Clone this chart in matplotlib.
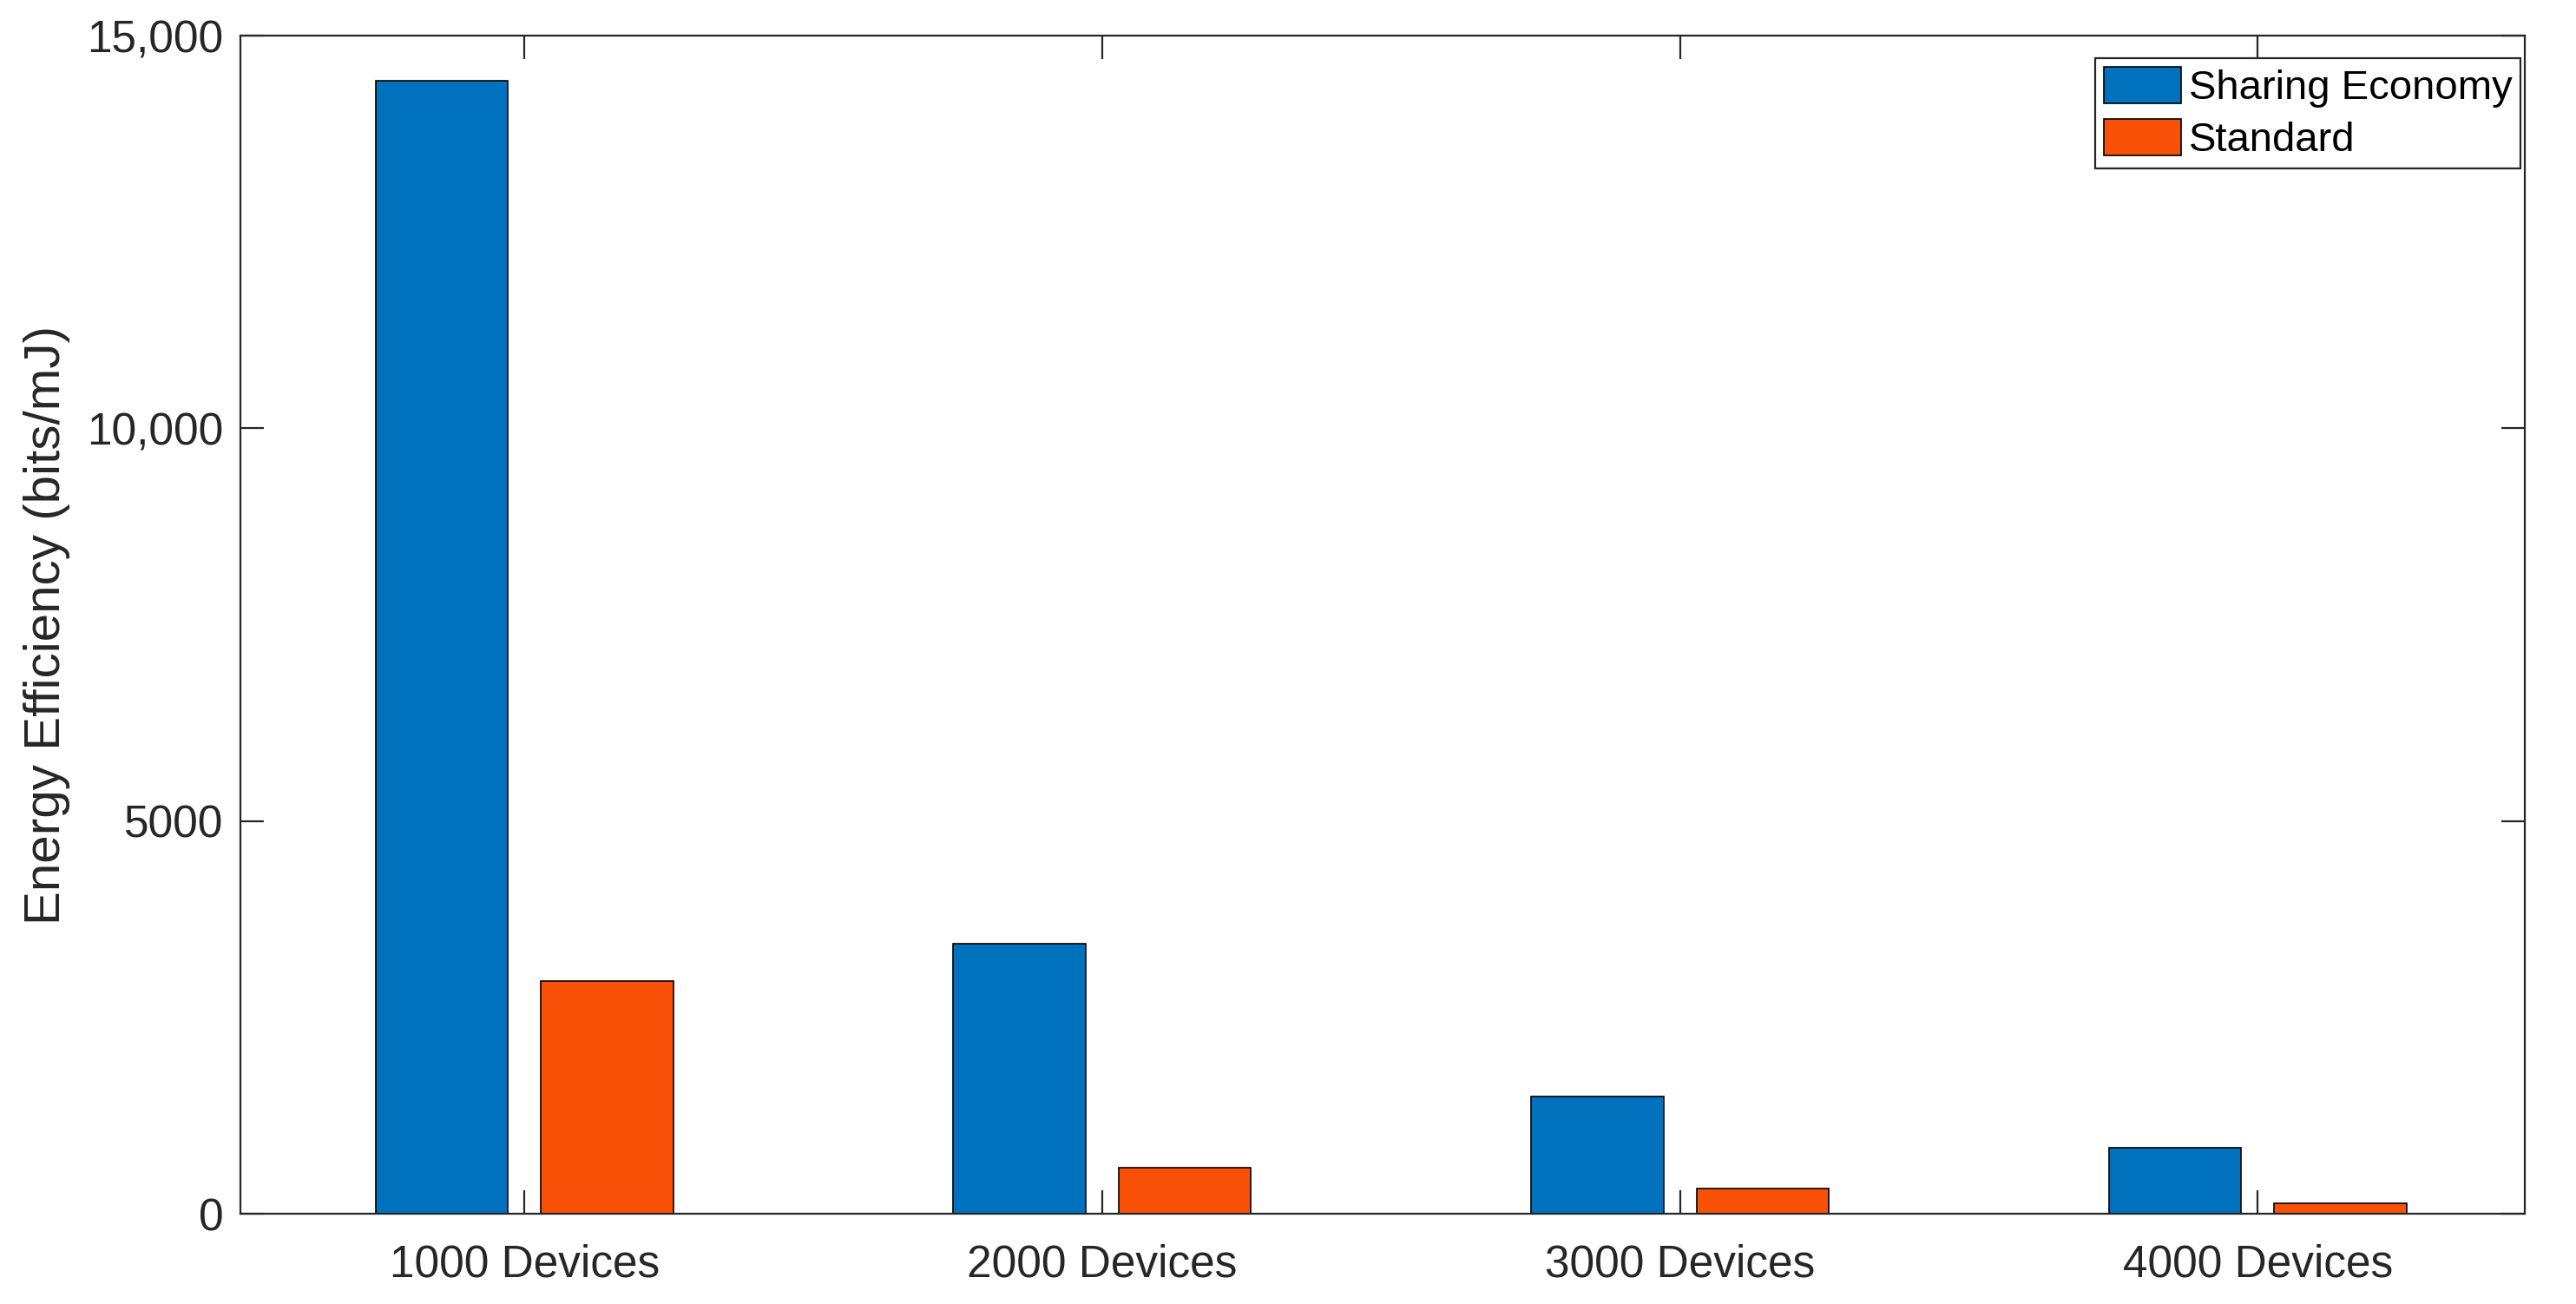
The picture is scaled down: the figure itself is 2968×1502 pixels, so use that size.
import matplotlib
matplotlib.use("Agg")
import matplotlib.pyplot as plt
import numpy as np

categories = ["1000 Devices", "2000 Devices", "3000 Devices", "4000 Devices"]
sharing_economy = [14430, 3436, 1494, 839]
standard = [2958, 585, 320, 136]
series_names = ["Sharing Economy", "Standard"]
y_ticks = [0, 5000, 10000, 15000]
y_tick_labels = ["0", "5000", "10,000", "15,000"]
y_label = "Energy Efficiency (bits/mJ)"

plt.rcParams['font.family'] = ['Liberation Sans', 'DejaVu Sans']

DPI = 200
fig = plt.figure(figsize=(2968 / DPI, 1502 / DPI), dpi=DPI)
ax = fig.add_axes([0.0933, 0.0692, 0.9801 - 0.0933, 0.9727 - 0.0692])

x = np.arange(1, len(categories) + 1)
w = 0.229
off = 0.143
ax.bar(x - off, sharing_economy, w, color="#0072BD", edgecolor="black",
       linewidth=0.6, label=series_names[0], zorder=2)
ax.bar(x + off, standard, w, color="#F95208", edgecolor="black",
       linewidth=0.6, label=series_names[1], zorder=2)

ax.set_xlim(1 - 0.4915, 4 + 0.462)
ax.set_ylim(0, 15000)
ax.set_xticks(x)
ax.set_xticklabels(categories)
ax.set_yticks(y_ticks)
ax.set_yticklabels(y_tick_labels)

tc = "#262626"
for s in ax.spines.values():
    s.set_color(tc)
    s.set_linewidth(0.8)
ax.tick_params(axis='both', direction='in', length=9.7, width=0.8, color=tc,
               labelcolor=tc, labelsize=18.5, top=True, right=True)
ax.tick_params(axis='x', pad=12.5)
ax.tick_params(axis='y', pad=7)
ax.set_ylabel(y_label, fontsize=21, color=tc, labelpad=7)

leg = ax.legend(loc='upper right', bbox_to_anchor=(0.9981, 0.9808),
                borderaxespad=0, fontsize=17, handlelength=1.9,
                handleheight=1.0, handletextpad=0.18, borderpad=0.2,
                labelspacing=0.28, fancybox=False, framealpha=1)
leg.get_frame().set_edgecolor(tc)
leg.get_frame().set_linewidth(0.8)

fig.savefig("out.png", dpi=DPI)
